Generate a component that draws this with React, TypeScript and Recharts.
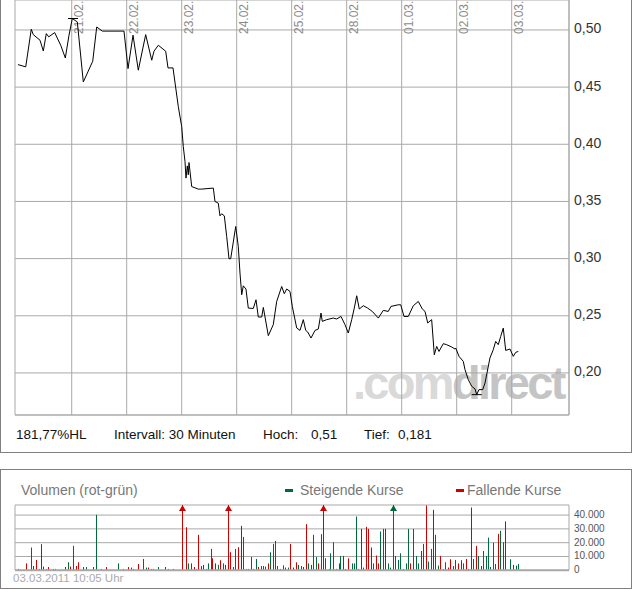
import React from "react";
import {
  Bar,
  BarChart,
  CartesianGrid,
  Line,
  LineChart,
  ReferenceLine,
  XAxis,
  YAxis,
} from "recharts";

// time axis: 0 = start of 18.02., one unit per trading day
const dayTicks = [1, 2, 3, 4, 5, 6, 7, 8, 9];
const dayLabels = ["21.02.", "22.02.", "23.02.", "24.02.", "25.02.", "28.02.", "01.03.", "02.03.", "03.03."];
const priceTicks = [0.2, 0.25, 0.3, 0.35, 0.4, 0.45, 0.5];
const volumeTicks = [0, 10000, 20000, 30000, 40000];

const priceTime = [
  0.024, 0.164, 0.265, 0.302, 0.424, 0.484, 0.538, 0.582, 0.691, 0.8,
  0.884, 0.951, 1.011, 1.102, 1.211, 1.382, 1.455, 1.556, 1.951, 2.024,
  2.115, 2.211, 2.345, 2.455, 2.496, 2.575, 2.709, 2.751, 2.842, 2.938,
  3.0, 3.029, 3.06, 3.078, 3.102, 3.12, 3.133, 3.182, 3.302, 3.364,
  3.575, 3.605, 3.665, 3.696, 3.727, 3.775, 3.818, 3.86, 3.891, 3.982,
  4.029, 4.06, 4.091, 4.12, 4.169, 4.211, 4.302, 4.351, 4.393, 4.455,
  4.484, 4.575, 4.665, 4.727, 4.818, 4.865, 4.909, 4.969, 5.011, 5.091,
  5.151, 5.211, 5.255, 5.291, 5.351, 5.424, 5.484, 5.533, 5.556, 5.636,
  5.756, 5.818, 5.896, 5.969, 6.029, 6.091, 6.138, 6.182, 6.229, 6.302,
  6.382, 6.465, 6.575, 6.665, 6.756, 6.805, 6.938, 6.982, 7.042, 7.12,
  7.211, 7.302, 7.375, 7.424, 7.473, 7.545, 7.593, 7.636, 7.678, 7.756,
  7.818, 7.909, 7.969, 7.982, 8.042, 8.12, 8.151, 8.211, 8.273, 8.333,
  8.364, 8.405, 8.473, 8.515, 8.605, 8.665, 8.709, 8.756, 8.8, 8.847,
  8.891, 8.969, 9.029, 9.073, 9.12,
];
const priceValue = [
  0.4697, 0.4677, 0.5006, 0.4959, 0.491, 0.4816, 0.4968, 0.494, 0.4977, 0.4866,
  0.4755, 0.4954, 0.51, 0.507, 0.4545, 0.4726, 0.5026, 0.499, 0.499, 0.4662,
  0.4954, 0.4648, 0.4959, 0.4735, 0.4814, 0.4866, 0.4814, 0.4668, 0.4668, 0.433,
  0.4155, 0.398, 0.3849, 0.3704, 0.3811, 0.3733, 0.384, 0.363, 0.3608, 0.3608,
  0.3617, 0.35, 0.3485, 0.3374, 0.3392, 0.3374, 0.3193, 0.2999, 0.2999, 0.3281,
  0.3106, 0.2873, 0.2684, 0.2762, 0.2733, 0.2567, 0.2564, 0.264, 0.2489, 0.2489,
  0.2573, 0.2326, 0.2422, 0.2625, 0.2756, 0.2693, 0.2734, 0.2713, 0.2582, 0.2393,
  0.2372, 0.2466, 0.2372, 0.2358, 0.2305, 0.2372, 0.2384, 0.2524, 0.2451, 0.2466,
  0.248, 0.2472, 0.2494, 0.2422, 0.2349, 0.2466, 0.2567, 0.2675, 0.2559, 0.2588,
  0.2567, 0.2538, 0.248, 0.2547, 0.2538, 0.2582, 0.2596, 0.2596, 0.2494, 0.2494,
  0.2588, 0.2625, 0.2559, 0.2538, 0.2437, 0.2466, 0.2159, 0.2232, 0.2188, 0.2256,
  0.2247, 0.2227, 0.2209, 0.2218, 0.2145, 0.2101, 0.2029, 0.1941, 0.1883, 0.186,
  0.181, 0.1854, 0.1854, 0.1912, 0.2131, 0.2203, 0.2276, 0.2247, 0.2319, 0.2392,
  0.2197, 0.2209, 0.2145, 0.218, 0.2188,
];

const volumeTime = [
  0.029, 0.182, 0.273, 0.302, 0.364, 0.405, 0.455, 0.484, 0.533, 0.575,
  0.665, 0.696, 0.891, 0.938, 0.982, 1.029, 1.078, 1.12, 1.211, 1.273,
  1.393, 1.455, 1.545, 1.624, 1.847, 1.938, 2.029, 2.091, 2.12, 2.211,
  2.302, 2.364, 2.393, 2.455, 2.484, 2.575, 2.709, 2.756, 2.847, 3.018,
  3.078, 3.12, 3.182, 3.229, 3.273, 3.302, 3.351, 3.393, 3.442, 3.484,
  3.533, 3.564, 3.605, 3.665, 3.709, 3.756, 3.8, 3.847, 3.878, 3.938,
  3.975, 4.029, 4.078, 4.12, 4.169, 4.211, 4.26, 4.302, 4.351, 4.393,
  4.442, 4.484, 4.527, 4.575, 4.618, 4.665, 4.696, 4.745, 4.787, 4.847,
  4.891, 4.938, 4.982, 5.029, 5.078, 5.12, 5.169, 5.211, 5.273, 5.302,
  5.364, 5.393, 5.442, 5.484, 5.545, 5.575, 5.618, 5.678, 5.709, 5.756,
  5.805, 5.86, 5.891, 5.938, 5.982, 6.029, 6.102, 6.133, 6.182, 6.211,
  6.273, 6.302, 6.364, 6.393, 6.442, 6.484, 6.533, 6.575, 6.618, 6.665,
  6.709, 6.756, 6.8, 6.847, 6.884, 6.938, 6.982, 7.029, 7.078, 7.12,
  7.164, 7.211, 7.26, 7.302, 7.364, 7.393, 7.447, 7.484, 7.545, 7.575,
  7.618, 7.665, 7.709, 7.756, 7.8, 7.847, 7.891, 7.938, 7.982, 8.029,
  8.078, 8.12, 8.169, 8.211, 8.273, 8.302, 8.364, 8.393, 8.455, 8.484,
  8.545, 8.575, 8.618, 8.665, 8.709, 8.756, 8.8, 8.847, 8.891, 8.969,
  9.029, 9.078, 9.12,
];
const volumeAmount = [
  1000, 5000, 16500, 3100, 7500, 1000, 18900, 2700, 1000, 2400,
  1000, 1000, 2400, 5800, 2700, 17700, 3100, 5800, 2400, 2400,
  2400, 40200, 1000, 2400, 5000, 1000, 2400, 2000, 1000, 4600,
  8200, 2000, 2000, 1000, 1000, 2400, 2400, 1000, 1000, 72000,
  31200, 5000, 5000, 2400, 1000, 25700, 3100, 3900, 1000, 5000,
  15500, 8700, 5000, 3900, 7300, 5000, 3900, 64000, 13100, 2400,
  15500, 16700, 32200, 24200, 1000, 1000, 9700, 1000, 8200, 2400,
  3100, 3100, 2700, 5000, 13100, 19100, 21300, 3100, 1000, 3600,
  2000, 2000, 19100, 2000, 5800, 3900, 3100, 2400, 33400, 5000,
  3900, 25700, 9700, 5000, 26200, 58000, 8700, 1000, 12300, 20300,
  1000, 5000, 10400, 10400, 1000, 8700, 5000, 5000, 39000, 1000,
  30000, 2000, 31500, 30000, 16500, 5000, 10700, 5000, 28100, 30000,
  30000, 5000, 2000, 61000, 10400, 7500, 12300, 1000, 5000, 30000,
  5000, 30000, 10400, 5000, 14000, 19100, 47000, 6300, 15500, 43800,
  25700, 3400, 10400, 1000, 5800, 2000, 8000, 3100, 7500, 5000,
  7300, 5000, 8200, 1000, 45500, 8200, 17700, 10400, 3100, 14000,
  10400, 23700, 2400, 20100, 4600, 26400, 28600, 20300, 35400, 8000,
  3900, 3400, 4600,
];
// u = steigende Kurse, d = fallende Kurse
const volumeDir = [
  "d", "d", "u", "d", "d", "d", "d", "d", "u", "d",
  "u", "u", "d", "u", "d", "u", "d", "d", "d", "u",
  "u", "u", "d", "d", "u", "u", "d", "u", "u", "d",
  "u", "u", "d", "d", "u", "u", "d", "d", "u", "d",
  "d", "u", "d", "d", "u", "d", "u", "d", "u", "u",
  "u", "d", "d", "u", "d", "u", "d", "d", "d", "u",
  "u", "d", "d", "u", "d", "d", "u", "u", "u", "d",
  "u", "u", "u", "d", "u", "u", "u", "u", "d", "u",
  "d", "u", "d", "d", "d", "u", "d", "d", "d", "u",
  "d", "u", "u", "d", "u", "d", "u", "u", "u", "u",
  "d", "u", "u", "d", "u", "d", "u", "u", "u", "d",
  "d", "u", "d", "d", "d", "u", "d", "d", "u", "u",
  "d", "u", "u", "u", "u", "u", "u", "u", "u", "u",
  "d", "u", "u", "u", "d", "u", "d", "u", "u", "d",
  "u", "u", "d", "u", "u", "d", "d", "u", "u", "d",
  "d", "u", "d", "u", "d", "u", "d", "u", "d", "u",
  "u", "u", "u", "u", "u", "d", "u", "u", "d", "u",
  "d", "u", "u",
];

const HIGH = 0.51;
const LOW = 0.181;
const highSpan = [0.933, 1.115];
const lowSpan = [8.273, 8.455];

const X_MIN = -0.031;
const X_MAX = 10.042;
const PRICE_MIN = 0.1632;
const PRICE_MAX = 0.5262;
const VOL_MAX = 47300;
const VOL_TOP = 5;

const GRID = "#a9a9a9";
const UP = "#006a3b";
const DOWN = "#d00000";
const FONT = "'Liberation Sans', Arial, sans-serif";

const priceData = priceTime.map((t, i) => ({ t, p: priceValue[i] }));
const volumeData = volumeTime.map((t, i) => ({
  t,
  v: volumeAmount[i],
  dir: volumeDir[i],
}));

const fmtComma = (v: number, d: number) => v.toFixed(d).replace(".", ",");
const fmtThousands = (v: number) =>
  String(v).replace(/\B(?=(\d{3})+(?!\d))/g, ".");

// rotated date label, drawn just right of its day line
const DayLabel = ({ viewBox, text }: any) => {
  if (!viewBox) return null;
  return (
    <text
      transform={`translate(${viewBox.x + 11},${viewBox.y + 34}) rotate(-90)`}
      fontSize={12}
      fill="#8c8c8c"
      fontFamily={FONT}
    >
      {text}
    </text>
  );
};

const PriceTick = ({ x, y, payload }: any) => (
  <text x={x} y={y + 3.5} fontSize={14} fill="#333" fontFamily={FONT}>
    {fmtComma(payload.value, 2)}
  </text>
);

const VolTick = ({ x, y, payload }: any) => (
  <text x={x} y={y + 3} fontSize={10} fill="#555" fontFamily={FONT}>
    {fmtThousands(payload.value)}
  </text>
);

const VolBar = (props: any) => {
  const { x, y, width, height, payload } = props;
  const color = payload.dir === "u" ? UP : DOWN;
  const base = y + height;
  const over = payload.v > VOL_MAX;
  const top = over ? VOL_TOP : y;
  const cx = Math.round(x + width / 2);
  return (
    <g>
      <rect x={cx} y={top} width={1} height={base - top} fill={color} />
      {over && (
        <path
          d={`M${cx + 0.5} ${top} L${cx + 4} ${top + 6} L${cx - 3} ${top + 6} Z`}
          fill={color}
        />
      )}
    </g>
  );
};

export default function App() {
  const range = fmtComma(((HIGH - LOW) / LOW) * 100, 2);
  return (
    <div
      style={{
        position: "absolute",
        left: 0,
        top: 0,
        width: 632,
        height: 590,
        background: "#fff",
        overflow: "hidden",
        fontFamily: FONT,
      }}
    >
      {/* price panel frame (top edge is cut off) */}
      <div
        style={{
          position: "absolute",
          left: 0,
          top: -2,
          width: 632,
          height: 455,
          boxSizing: "border-box",
          border: "1px solid #7f7f7f",
        }}
      />
      <svg
        width={632}
        height={452}
        style={{ position: "absolute", left: 0, top: 0 }}
      >
        <text
          x={353}
          y={399}
          fontSize={47}
          fontWeight="bold"
          letterSpacing={-2.7}
          fontFamily={FONT}
        >
          <tspan fill="#d9d9d9">.com</tspan>
          <tspan fill="#c4c4c4">direct</tspan>
        </text>
      </svg>
      <div style={{ position: "absolute", left: 0, top: 0 }}>
        <LineChart
          width={632}
          height={420}
          data={priceData}
          margin={{ top: 0, right: 0, bottom: 5, left: 15 }}
        >
          <CartesianGrid stroke={GRID} />
          <XAxis
            type="number"
            dataKey="t"
            domain={[X_MIN, X_MAX]}
            ticks={dayTicks}
            interval={0}
            orientation="top"
            height={0}
            axisLine={false}
            tickLine={false}
            tick={false}
            allowDataOverflow
          />
          <YAxis
            type="number"
            domain={[PRICE_MIN, PRICE_MAX]}
            ticks={priceTicks}
            interval={0}
            orientation="right"
            width={63}
            axisLine={false}
            tickLine={false}
            tickSize={0}
            tickMargin={5}
            tick={<PriceTick />}
            allowDataOverflow
          />
          {dayTicks.map((d, i) => (
            <ReferenceLine
              key={d}
              x={d}
              stroke={GRID}
              label={<DayLabel text={dayLabels[i]} />}
            />
          ))}
          <ReferenceLine y={PRICE_MIN} stroke={GRID} />
          <ReferenceLine x={X_MAX} stroke={GRID} />
          <ReferenceLine
            segment={[
              { x: highSpan[0], y: HIGH },
              { x: highSpan[1], y: HIGH },
            ]}
            stroke="#000"
          />
          <ReferenceLine
            segment={[
              { x: lowSpan[0], y: LOW },
              { x: lowSpan[1], y: LOW },
            ]}
            stroke="#000"
          />
          <Line
            type="linear"
            dataKey="p"
            stroke="#000"
            strokeWidth={1}
            dot={false}
            isAnimationActive={false}
          />
        </LineChart>
      </div>

      {/* volume panel frame */}
      <div
        style={{
          position: "absolute",
          left: 0,
          top: 469,
          width: 632,
          height: 120,
          boxSizing: "border-box",
          border: "1px solid #7f7f7f",
        }}
      />
      <div style={{ position: "absolute", left: 0, top: 500 }}>
        <BarChart
          width={632}
          height={75}
          data={volumeData}
          margin={{ top: VOL_TOP, right: 0, bottom: 4.7, left: 15 }}
        >
          <CartesianGrid stroke={GRID} />
          <XAxis
            type="number"
            dataKey="t"
            domain={[X_MIN, X_MAX]}
            ticks={dayTicks}
            interval={0}
            height={0}
            axisLine={false}
            tickLine={false}
            tick={false}
            allowDataOverflow
          />
          <YAxis
            type="number"
            domain={[0, VOL_MAX]}
            ticks={volumeTicks}
            interval={0}
            orientation="right"
            width={63}
            axisLine={false}
            tickLine={false}
            tickSize={0}
            tickMargin={5}
            tick={<VolTick />}
            allowDataOverflow
          />
          <ReferenceLine y={0} stroke={GRID} strokeWidth={2} />
          <Bar
            dataKey="v"
            barSize={1}
            shape={<VolBar />}
            isAnimationActive={false}
          />
        </BarChart>
      </div>

      <svg
        width={632}
        height={590}
        style={{ position: "absolute", left: 0, top: 0, pointerEvents: "none" }}
        fontFamily={FONT}
      >
        <g fontSize={13.5} fill="#111">
          <text x={16} y={439}>{`${range}%HL`}</text>
          <text x={114} y={439}>Intervall: 30 Minuten</text>
          <text x={263} y={439}>Hoch:</text>
          <text x={311} y={439}>{fmtComma(HIGH, 2)}</text>
          <text x={364} y={439}>Tief:</text>
          <text x={398} y={439}>{fmtComma(LOW, 3)}</text>
        </g>
        <g fontSize={14} fill="#777">
          <text x={21} y={495}>Volumen (rot-grün)</text>
          <rect x={285} y={489} width={8} height={3} fill={UP} />
          <text x={300} y={495}>Steigende Kurse</text>
          <rect x={456} y={489} width={8} height={3} fill={DOWN} />
          <text x={467} y={495}>Fallende Kurse</text>
        </g>
        <text x={13} y={582} fontSize={11.5} fill="#aaa">
          03.03.2011 10:05 Uhr
        </text>
      </svg>
    </div>
  );
}
